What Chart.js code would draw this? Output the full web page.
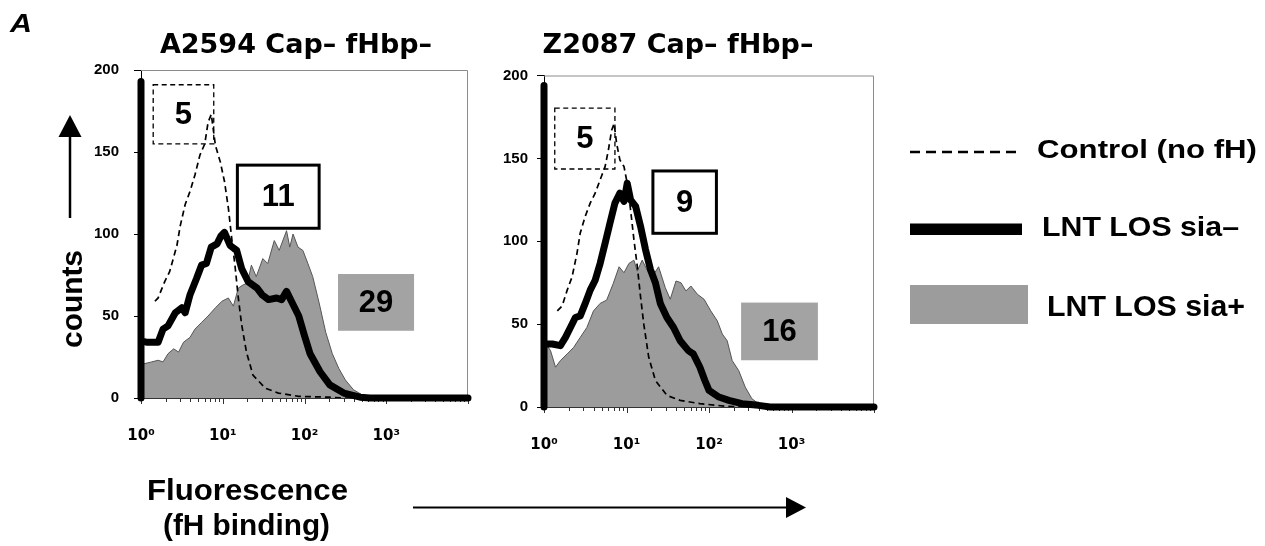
<!DOCTYPE html>
<html>
<head>
<meta charset="utf-8">
<script src="https://cdn.jsdelivr.net/npm/chart.js@4.4.1/dist/chart.umd.min.js"></script>
<style>
  html, body { margin: 0; padding: 0; background: #fff; width: 1265px; height: 546px; overflow: hidden; }
  body { position: relative; }
  canvas { position: absolute; top: 0; }
  #cA { left: 0; }
  #cZ { left: 470px; }
  svg { position: absolute; left: 0; top: 0; }
</style>
</head>
<body>
<canvas id="cA" width="592" height="470"></canvas>
<canvas id="cZ" width="425" height="479"></canvas>
<svg width="1265" height="546" xmlns="http://www.w3.org/2000/svg" font-family="'Liberation Sans', Arial, sans-serif" font-weight="bold">
  <text x="10" y="32" font-size="26" font-style="italic" textLength="22" lengthAdjust="spacingAndGlyphs">A</text>
  <line x1="70" y1="218" x2="70" y2="134" stroke="#000" stroke-width="2.5"/>
  <polygon points="70,115 58.5,137 81.5,137" fill="#000"/>
  <text id="yTitle" transform="translate(82,299) rotate(-90)" text-anchor="middle" font-size="30" textLength="98" lengthAdjust="spacingAndGlyphs"></text>
  <text id="xTitle1" x="247.5" y="500" text-anchor="middle" font-size="30" textLength="201" lengthAdjust="spacingAndGlyphs"></text>
  <text id="xTitle2" x="246.5" y="535" text-anchor="middle" font-size="30" textLength="167" lengthAdjust="spacingAndGlyphs"></text>
  <line x1="413" y1="507.5" x2="790" y2="507.5" stroke="#000" stroke-width="2"/>
  <polygon points="786,497 806,507.5 786,518" fill="#000"/>
  <line x1="910" y1="152" x2="1022" y2="152" stroke="#000" stroke-width="2.5" stroke-dasharray="10 6"/>
  <text id="leg0" x="1037" y="158" font-size="26" textLength="220" lengthAdjust="spacingAndGlyphs"></text>
  <rect x="910" y="223.5" width="112" height="11.5" fill="#000"/>
  <text id="leg1" x="1042" y="236" font-size="28" textLength="197" lengthAdjust="spacingAndGlyphs"></text>
  <rect x="910" y="285" width="118" height="39" fill="#9c9c9c"/>
  <text id="leg2" x="1047" y="316" font-size="29" textLength="198" lengthAdjust="spacingAndGlyphs"></text>
</svg>
<script>
// ---------- text / labels ----------
const panelTitles = ['A2594 Cap– fHbp–', 'Z2087 Cap– fHbp–'];
const seriesNames = ['Control (no fH)', 'LNT LOS sia–', 'LNT LOS sia+'];
const yAxisTitle = 'counts';
const xAxisTitle = ['Fluorescence', '(fH binding)'];
const xTickLabels = ['10⁰', '10¹', '10²', '10³'];
const yTickValues = [0, 50, 100, 150, 200];
const a2594BoxLabels = ['5', '11', '29'];
const z2087BoxLabels = ['5', '9', '16'];

// ---------- series: [fluorescence, counts] ----------
const a2594Control = [[1.48,59],[1.62,61],[1.95,71],[2.24,77],[2.75,93],[3.02,105],[3.47,118],[3.98,126],[4.57,136],[5.25,148],[6.03,155],[6.61,168],[7.24,173],[8.13,154],[9.33,144],[10.5,132],[11.7,116],[12.9,97],[14.1,81],[15.5,61],[17.0,45],[19.5,28],[23.4,14],[33.1,6],[47.9,3],[85.1,1],[200,0.5],[316,0],[10000,0]];
const a2594SiaNeg = [[1,0],[1,193],[1,35],[1.17,34],[1.62,34],[1.86,42],[2.14,44],[2.63,52],[3.16,55],[3.47,52],[3.98,63],[4.79,73],[5.50,81],[6.31,82],[7.24,92],[8.51,94],[9.55,99],[10.5,101],[12.3,93],[14.8,90],[17.0,79],[20.4,71],[26.3,67],[30.2,63],[36.3,60],[45.7,61],[52.5,60],[60.3,65],[69.2,59],[85.1,50],[100,38],[117,27],[155,16],[204,8],[302,3],[479,0.5],[631,0],[10000,0]];
const a2594SiaPos = [[1,21],[1.12,21],[1.35,22],[1.62,23],[1.86,22],[2.14,27],[2.51,30],[2.88,28],[3.31,34],[3.98,37],[4.57,42],[5.50,46],[6.61,50],[8.13,55],[9.77,59],[11.7,61],[13.5,56],[15.5,67],[17.8,69],[20.0,70],[22.4,81],[25.7,74],[30.9,85],[35.5,82],[42.7,96],[49.0,90],[60.3,102],[66.1,92],[72.4,100],[83.2,92],[95.5,90],[110,82],[126,74],[151,58],[182,40],[219,27],[263,18],[316,11],[398,5],[525,1.5],[708,0],[10000,0]];

const z2087Control = [[1.45,58],[1.66,61],[1.91,70.5],[2.19,78.5],[2.51,92.7],[2.75,105],[3.16,115],[3.63,123],[4.17,129],[4.79,137],[5.50,145],[6.03,155],[6.61,167],[7.08,171],[7.59,159],[8.32,149],[9.33,145],[10.2,135],[11.2,119],[12.3,101],[13.5,85],[14.8,66.5],[16.2,50],[18.6,30],[22.4,16],[30.9,7],[44.7,4],[77.6,2],[158,0.5],[251,0],[10000,0]];
const z2087SiaNeg = [[1,0],[1,194],[1,38],[1.26,38],[1.58,37],[1.82,42],[2.09,48],[2.40,54],[2.75,55],[3.16,62.5],[3.63,70.5],[4.17,76.5],[4.79,86.6],[5.50,98.7],[6.31,111],[7.24,123],[8.32,129],[9.33,124],[10.2,135],[11.2,125],[12.9,121],[14.8,109],[17.0,95],[19.5,83],[22.4,75],[25.7,62.5],[30.9,54],[37.2,48],[44.7,40],[56.2,34],[64.6,32],[77.6,24],[89.1,16],[100,10],[132,6],[174,4],[251,2],[398,1],[550,0],[10000,0]];
const z2087SiaPos = [[1,40],[1.20,34],[1.38,24],[1.58,28],[1.91,32],[2.29,36],[2.75,42],[3.31,48],[3.98,58],[4.79,62.5],[5.75,64.5],[6.92,74.6],[8.13,84.6],[9.33,81],[10.7,86.6],[12.3,88.6],[13.5,82],[15.5,88.6],[17.8,82.6],[20.4,78.5],[24.5,84.6],[29.5,72],[33.9,65],[39.8,76],[45.7,75],[52.5,70],[60.3,73],[72.4,68],[87.1,65],[105,58],[126,52],[145,44],[166,40],[191,28],[229,22],[275,12],[331,5],[398,2],[525,0],[10000,0]];

// ---------- annotation boxes (data coordinates) ----------
const boxDefs = {
  cA: [
    { label: a2594BoxLabels[0], kind: 'dashed', x: [1.41, 7.76], y: [155, 191] },
    { label: a2594BoxLabels[1], kind: 'solid',  x: [15.1, 151],  y: [103.5, 142] },
    { label: a2594BoxLabels[2], kind: 'gray',   x: [257, 2188],  y: [41, 75.6] }
  ],
  cZ: [
    { label: z2087BoxLabels[0], kind: 'dashed', x: [1.35, 7.24], y: [143.6, 180.3] },
    { label: z2087BoxLabels[1], kind: 'solid',  x: [20.9, 123],  y: [104.8, 142.4] },
    { label: z2087BoxLabels[2], kind: 'gray',   x: [245, 2089],  y: [28.2, 63] }
  ]
};

// fill overlay texts
document.getElementById('yTitle').textContent = yAxisTitle;
document.getElementById('xTitle1').textContent = xAxisTitle[0];
document.getElementById('xTitle2').textContent = xAxisTitle[1];
seriesNames.forEach((n, i) => { document.getElementById('leg' + i).textContent = n; });

const FONT = "'Liberation Sans', Arial, sans-serif";

// re-centre the title block horizontally (canvas coordinates)
const titleShift = {
  id: 'titleShift',
  afterLayout(chart, args, opts) {
    const tb = chart.titleBlock;
    if (tb && typeof opts.center === 'number') {
      tb.left = opts.center - 200;
      tb.right = opts.center + 200;
    }
  }
};

const frameTicks = {
  id: 'frameTicks',
  beforeDatasetsDraw(chart) {
    const { ctx, chartArea: { left, right, top, bottom } } = chart;
    const xs = chart.scales.x;
    ctx.save();
    ctx.strokeStyle = '#8c8c8c';
    ctx.lineWidth = 1;
    ctx.beginPath();
    ctx.moveTo(left, top + 0.5);
    ctx.lineTo(right - 0.5, top + 0.5);
    ctx.lineTo(right - 0.5, bottom);
    ctx.stroke();
    ctx.strokeStyle = '#333';
    xs.ticks.forEach(t => {
      const e = Math.log10(t.value);
      const major = Math.abs(e - Math.round(e)) < 1e-9;
      const px = Math.round(xs.getPixelForValue(t.value)) + 0.5;
      ctx.beginPath();
      ctx.moveTo(px, bottom);
      ctx.lineTo(px, bottom + (major ? 6 : 4));
      ctx.stroke();
    });
    ctx.restore();
  }
};

const numBoxes = {
  id: 'numBoxes',
  afterDatasetsDraw(chart) {
    const { ctx } = chart;
    const xs = chart.scales.x, ys = chart.scales.y;
    (boxDefs[chart.canvas.id] || []).forEach(b => {
      const x0 = xs.getPixelForValue(b.x[0]), x1 = xs.getPixelForValue(b.x[1]);
      const y0 = ys.getPixelForValue(b.y[1]), y1 = ys.getPixelForValue(b.y[0]);
      ctx.save();
      if (b.kind === 'gray') {
        ctx.fillStyle = '#a3a3a3';
        ctx.fillRect(x0, y0, x1 - x0, y1 - y0);
      } else if (b.kind === 'solid') {
        ctx.strokeStyle = '#000';
        ctx.lineWidth = 3;
        ctx.strokeRect(x0, y0, x1 - x0, y1 - y0);
      } else {
        ctx.strokeStyle = '#000';
        ctx.lineWidth = 1.3;
        ctx.setLineDash([5, 3.5]);
        ctx.strokeRect(x0, y0, x1 - x0, y1 - y0);
      }
      ctx.setLineDash([]);
      ctx.fillStyle = '#000';
      ctx.font = 'bold 31px ' + FONT;
      ctx.textAlign = 'center';
      ctx.textBaseline = 'middle';
      ctx.fillText(b.label, (x0 + x1) / 2, (y0 + y1) / 2 + 1);
      ctx.restore();
    });
  }
};

function toXY(arr) { return arr.map(p => ({ x: p[0], y: p[1] })); }

function makePanel(id, title, ctrl, neg, pos, geo) {
  return new Chart(document.getElementById(id), {
    type: 'line',
    data: {
      datasets: [
        { label: seriesNames[1], data: toXY(neg), borderColor: '#000', borderWidth: 7,
          borderCapStyle: 'round', borderJoinStyle: 'round', pointRadius: 0, fill: false, clip: false, tension: 0 },
        { label: seriesNames[0], data: toXY(ctrl), borderColor: '#000', borderWidth: 1.7,
          borderDash: [6, 4], pointRadius: 0, fill: false, tension: 0 },
        { label: seriesNames[2], data: toXY(pos), borderColor: '#555', borderWidth: 1,
          backgroundColor: '#9c9c9c', fill: 'origin', pointRadius: 0, tension: 0 }
      ]
    },
    options: {
      responsive: false,
      animation: false,
      devicePixelRatio: 1,
      events: [],
      layout: { padding: { left: 0, right: geo.padR, top: 0, bottom: geo.padB } },
      plugins: {
        legend: { display: false },
        tooltip: { enabled: false },
        title: {
          display: true, text: title, color: '#000',
          font: { family: 'DejaVu Sans', weight: 'bold', size: 27, lineHeight: 1 },
          padding: { top: geo.titleTop, bottom: geo.titleBottom }
        },
        titleShift: { center: geo.titleCenter }
      },
      scales: {
        x: {
          type: 'logarithmic', min: 1, max: 10000,
          grid: { display: false },
          border: { display: true, color: '#333', width: 1 },
          afterBuildTicks(s) {
            const t = [];
            for (let n = 0; n < 4; n++) for (let k = 1; k < 10; k++) t.push({ value: k * Math.pow(10, n) });
            t.push({ value: 10000 });
            s.ticks = t;
          },
          afterFit(s) { s.height = geo.xH; },
          ticks: {
            autoSkip: false, maxRotation: 0, minRotation: 0, padding: 21, color: '#000',
            font: { family: 'DejaVu Sans', weight: 'bold', size: 15 },
            callback(v) {
              const e = Math.log10(v);
              const r = Math.round(e);
              return (Math.abs(e - r) < 1e-9 && r < xTickLabels.length) ? xTickLabels[r] : '';
            }
          }
        },
        y: {
          min: 0, max: 200,
          afterBuildTicks(s) { s.ticks = yTickValues.map(v => ({ value: v })); },
          afterFit(s) { s.width = geo.yW; },
          grid: { drawOnChartArea: false, drawTicks: true, tickLength: 7, color: '#000' },
          border: { display: true, color: '#000', width: 1 },
          ticks: { padding: geo.yPad, color: '#000', font: { family: FONT, weight: 'bold', size: 15 } }
        }
      }
    },
    plugins: [titleShift, frameTicks, numBoxes]
  });
}

makePanel('cA', panelTitles[0], a2594Control, a2594SiaNeg, a2594SiaPos,
  { padR: 124, padB: 12, xH: 60, yW: 141, yPad: 15, titleTop: 32, titleBottom: 11, titleCenter: 296 });
makePanel('cZ', panelTitles[1], z2087Control, z2087SiaNeg, z2087SiaPos,
  { padR: 0, padB: 12, xH: 60, yW: 74, yPad: 9, titleTop: 32, titleBottom: 16.5, titleCenter: 208 });
</script>
</body>
</html>
